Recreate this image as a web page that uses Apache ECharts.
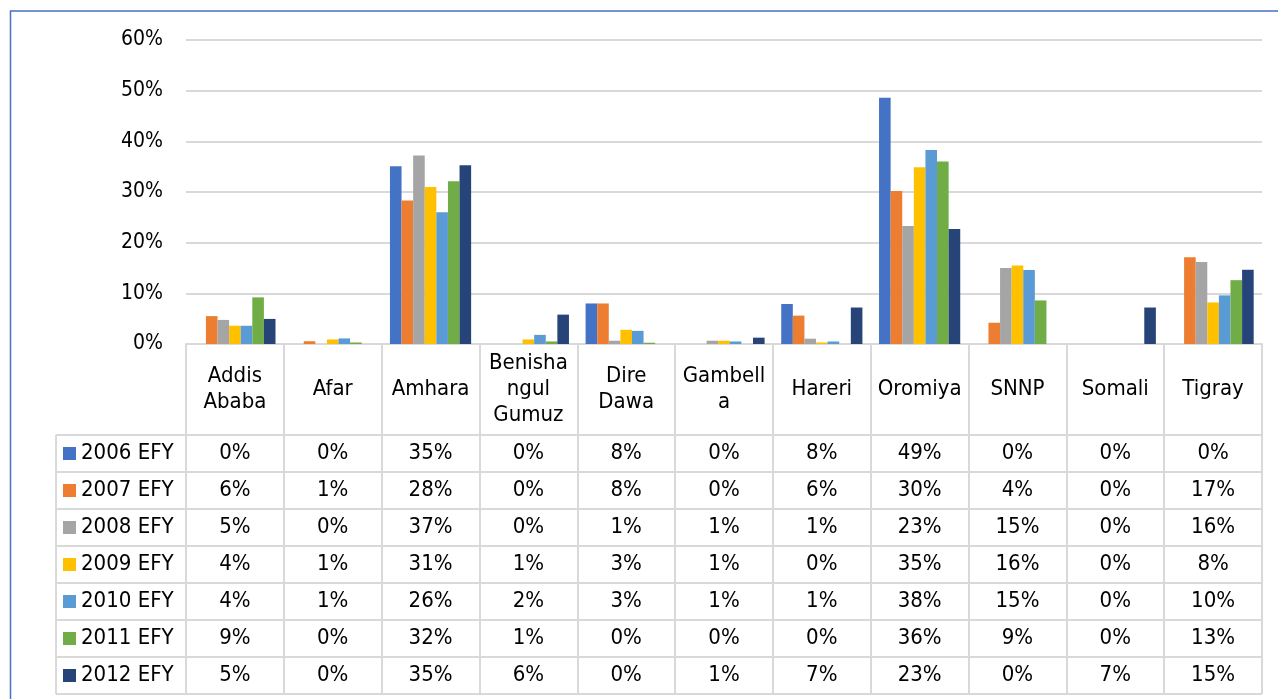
<!DOCTYPE html>
<html>
<head>
<meta charset="utf-8">
<script src="https://cdn.jsdelivr.net/npm/echarts@6/dist/echarts.min.js"></script>
<style>
  html, body { margin: 0; padding: 0; background: #fff; }
  #chart { width: 1278px; height: 699px; }
</style>
</head>
<body>
<div id="chart"></div>
<script>
// categories / series (percent of total, per region and year)
const regions = ['Addis\nAbaba', 'Afar', 'Amhara', 'Benisha\nngul\nGumuz', 'Dire\nDawa', 'Gambell\na', 'Hareri', 'Oromiya', 'SNNP', 'Somali', 'Tigray'];
const years = ['2006 EFY', '2007 EFY', '2008 EFY', '2009 EFY', '2010 EFY', '2011 EFY', '2012 EFY'];
const y2006 = [0, 0, 35.1, 0, 8.0, 0, 7.9, 48.6, 0, 0, 0];
const y2007 = [5.5, 0.55, 28.3, 0, 8.0, 0, 5.6, 30.2, 4.2, 0, 17.1];
const y2008 = [4.75, 0, 37.2, 0, 0.65, 0.65, 1.05, 23.3, 15.0, 0, 16.2];
const y2009 = [3.6, 0.9, 31.0, 0.9, 2.8, 0.65, 0.3, 34.9, 15.5, 0, 8.2];
const y2010 = [3.6, 1.1, 26.0, 1.8, 2.6, 0.5, 0.5, 38.3, 14.6, 0, 9.6];
const y2011 = [9.2, 0.3, 32.1, 0.5, 0.25, 0, 0, 36.0, 8.6, 0, 12.6];
const y2012 = [4.95, 0, 35.3, 5.8, 0, 1.25, 7.2, 22.7, 0, 7.2, 14.65];
const yTicks = [0, 10, 20, 30, 40, 50, 60];

const rows = [y2006, y2007, y2008, y2009, y2010, y2011, y2012];
const colors = ['#4472C4', '#ED7D31', '#A5A5A5', '#FFC000', '#5B9BD5', '#70AD47', '#264478'];

// table layout under the plot
const FONT = 'DejaVu Sans Condensed, DejaVu Sans, sans-serif';
const GRID_L = 186, GRID_R = 1262, AXIS_Y = 344;
const HEADER_H = 91, ROW_H = 37, LEG_L = 56;
const LINE = '#d9d9d9';
const TABLE_FS = 22;

const chart = echarts.init(document.getElementById('chart'));

const valueAxes = rows.map((r, k) => ({
  type: 'category',
  data: regions,
  gridIndex: 0,
  position: 'bottom',
  axisLine: { show: false },
  axisTick: { show: false },
  splitLine: { show: false },
  axisLabel: {
    interval: 0,
    margin: HEADER_H + ROW_H * k + ROW_H / 2,
    verticalAlign: 'middle',
    fontSize: TABLE_FS,
    fontFamily: FONT,
    color: '#000',
    formatter: (v, i) => Math.round(r[i]) + '%'
  }
}));

const tableLines = [];
for (let k = 0; k <= rows.length; k++) {
  const y = AXIS_Y + HEADER_H + ROW_H * k;
  tableLines.push({
    type: 'line',
    shape: { x1: LEG_L, y1: y, x2: GRID_R, y2: y },
    style: { stroke: LINE, lineWidth: 2 },
    silent: true
  });
}
tableLines.push({
  type: 'line',
  shape: { x1: LEG_L, y1: AXIS_Y + HEADER_H, x2: LEG_L, y2: AXIS_Y + HEADER_H + ROW_H * rows.length },
  style: { stroke: LINE, lineWidth: 2 },
  silent: true
});

chart.setOption({
  animation: false,
  backgroundColor: '#fff',
  color: colors,
  grid: { left: GRID_L, right: 1278 - GRID_R, top: 40, bottom: 699 - AXIS_Y, outerBoundsMode: 'none' },
  legend: {
    orient: 'vertical',
    left: 63,
    top: AXIS_Y + HEADER_H + 6,
    padding: 0,
    itemWidth: 13,
    itemHeight: 13,
    itemGap: 12,
    icon: 'rect',
    selectedMode: false,
    data: years,
    textStyle: { fontSize: TABLE_FS, lineHeight: 25, color: '#000', fontFamily: FONT }
  },
  xAxis: [{
    type: 'category',
    data: regions,
    position: 'bottom',
    axisLine: { lineStyle: { color: LINE, width: 2 } },
    axisTick: { show: true, length: HEADER_H + ROW_H * rows.length, lineStyle: { color: LINE, width: 2 } },
    axisLabel: {
      interval: 0,
      margin: HEADER_H / 2,
      verticalAlign: 'middle',
      lineHeight: 26,
      fontSize: TABLE_FS,
      fontFamily: FONT,
      color: '#000'
    }
  }].concat(valueAxes),
  yAxis: {
    type: 'value',
    min: yTicks[0],
    max: yTicks[yTicks.length - 1],
    interval: 10,
    axisLine: { show: false },
    axisTick: { show: false },
    splitLine: { lineStyle: { color: LINE, width: 2 } },
    axisLabel: { formatter: '{value}%', fontSize: 21, fontFamily: FONT, color: '#000', margin: 23 }
  },
  graphic: tableLines.concat([{
    type: 'rect',
    shape: { x: 10.5, y: 11, width: 1400, height: 800 },
    style: { fill: 'none', stroke: '#4472C4', lineWidth: 1.5 },
    silent: true
  }]),
  series: rows.map((r, k) => ({
    name: years[k],
    type: 'bar',
    xAxisIndex: 0,
    data: r,
    barGap: '0%',
    barCategoryGap: '17%'
  }))
});
</script>
</body>
</html>
